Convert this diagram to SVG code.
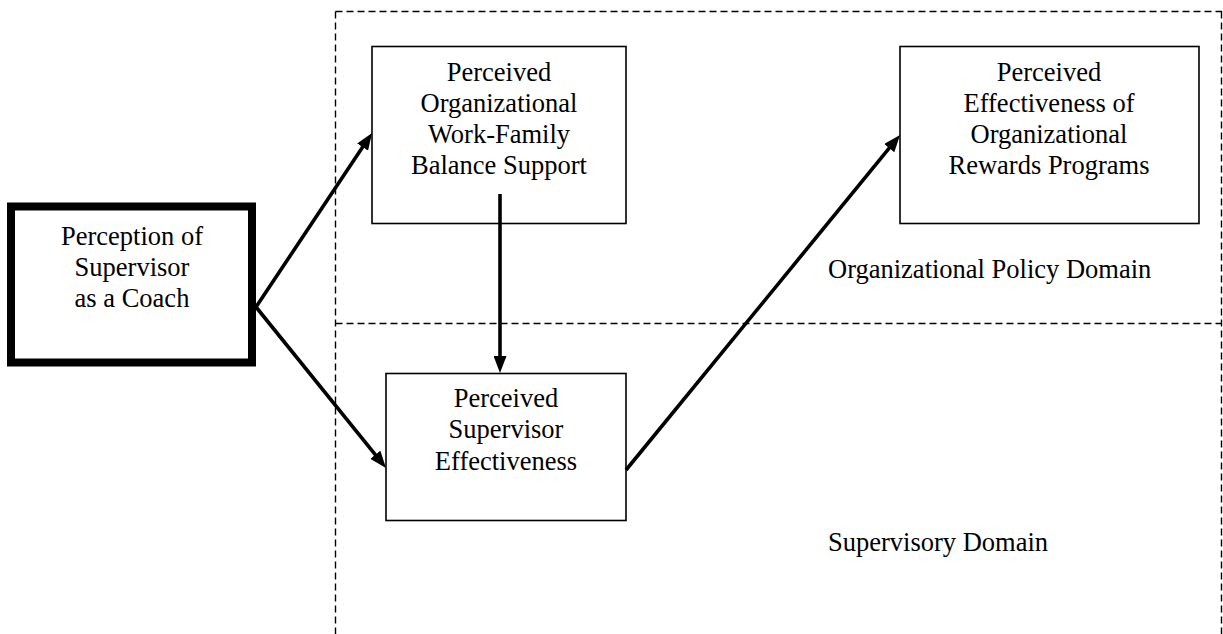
<svg xmlns="http://www.w3.org/2000/svg" width="1223" height="634" viewBox="0 0 1223 634">
<style>
.box{fill:#fff;stroke:#000;stroke-width:1.6}
.thick{fill:#fff;stroke:#000;stroke-width:8}
.dash{fill:none;stroke:#000;stroke-width:1.4;stroke-dasharray:7 4}
.t{font-family:"Liberation Serif","Times New Roman",serif;font-size:26.5px;fill:#000}
.c{text-anchor:middle}
.arr{stroke:#000;stroke-width:3.6;fill:none;marker-end:url(#ah)}
</style>
<defs>
<marker id="ah" viewBox="0 0 17 13" markerWidth="17" markerHeight="13" markerUnits="userSpaceOnUse" refX="7" refY="6.5" orient="auto">
<path d="M0,0 L17,6.5 L0,13 z" fill="#000"/>
</marker>
</defs>
<rect width="1223" height="634" fill="#fff"/>
<g id="domains">
<line class="dash" x1="335.5" y1="11.5" x2="1222" y2="11.5"/>
<line class="dash" x1="335.5" y1="11.5" x2="335.5" y2="634"/>
<line class="dash" x1="1221.5" y1="11.5" x2="1221.5" y2="634"/>
<line class="dash" x1="335.5" y1="323.5" x2="1222" y2="323.5"/>
<text id="org-domain" class="t" x="828" y="278">Organizational Policy Domain</text>
<text id="sup-domain" class="t" x="828" y="551">Supervisory Domain</text>
</g>
<g id="node-coach">
<rect class="thick" x="11" y="206.5" width="241" height="156"/>
<text class="t c" x="132" y="245">Perception of</text>
<text class="t c" x="132" y="276">Supervisor</text>
<text class="t c" x="132" y="307">as a Coach</text>
</g>
<g id="node-wfb">
<rect class="box" x="372" y="46.5" width="254" height="177"/>
<text class="t c" x="499" y="81">Perceived</text>
<text class="t c" x="499" y="112">Organizational</text>
<text class="t c" x="499" y="143">Work-Family</text>
<text class="t c" x="499" y="174">Balance Support</text>
</g>
<g id="node-rewards">
<rect class="box" x="900" y="46.5" width="299" height="177"/>
<text class="t c" x="1049" y="81">Perceived</text>
<text class="t c" x="1049" y="112">Effectiveness of</text>
<text class="t c" x="1049" y="143">Organizational</text>
<text class="t c" x="1049" y="174">Rewards Programs</text>
</g>
<g id="node-supeff">
<rect class="box" x="386" y="373.5" width="240" height="147"/>
<text class="t c" x="506" y="407">Perceived</text>
<text class="t c" x="506" y="438">Supervisor</text>
<text class="t c" x="506" y="470">Effectiveness</text>
</g>
<g id="connectors">
<path class="arr" d="M256,307 L366.5,141.3"/>
<path class="arr" d="M256,307 L379.7,460.2"/>
<path class="arr" d="M500,194 L500,363"/>
<path class="arr" d="M626,470 L893.7,142.7"/>
</g>
</svg>
